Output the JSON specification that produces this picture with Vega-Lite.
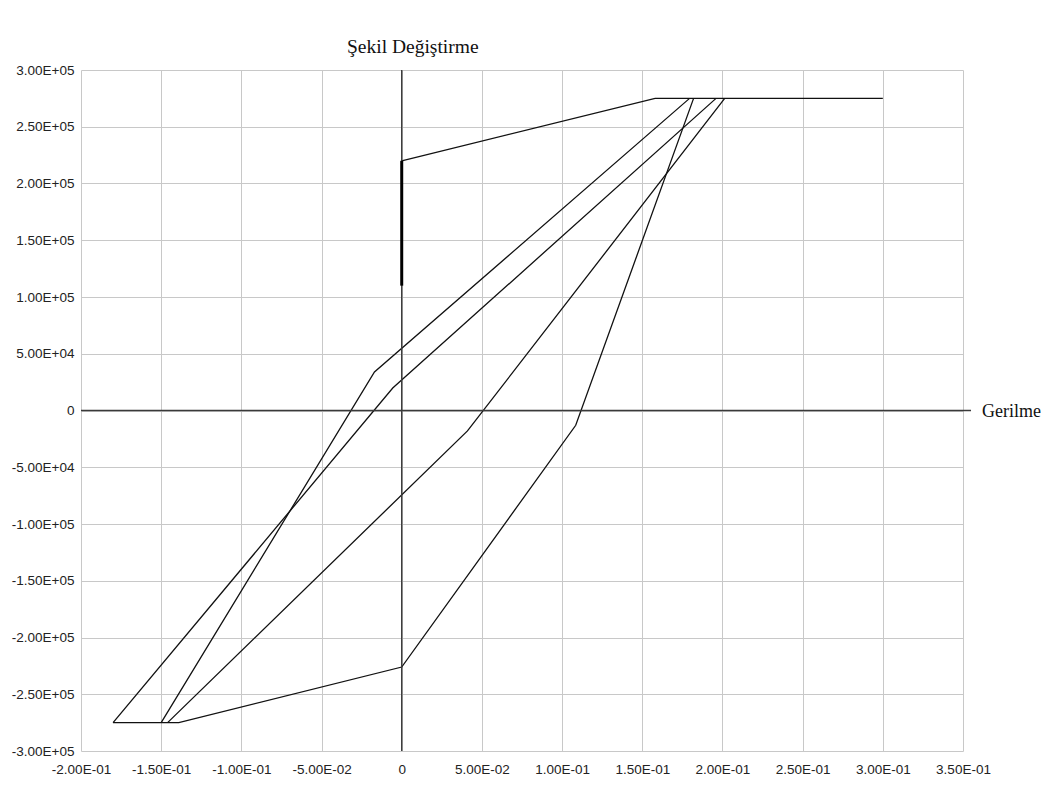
{
  "$schema": "https://vega.github.io/schema/vega-lite/v6.json",
  "width": 882,
  "height": 681,
  "autosize": "none",
  "padding": {"left": 81, "top": 70, "right": 94, "bottom": 34},
  "background": "white",
  "config": {
    "view": {"stroke": null},
    "axis": {
      "labelFont": "Liberation Sans",
      "labelFontSize": 13.5,
      "labelColor": "#222222",
      "labelOverlap": false,
      "labelBound": false,
      "labelFlush": false,
      "gridColor": "#c8c8c8",
      "gridWidth": 1,
      "domain": false,
      "ticks": false,
      "tickSize": 0,
      "title": null
    }
  },
  "datasets": {
    "loops": [
      {"s": "S1", "o": 1, "x": 0, "y": 220000},
      {"s": "S1", "o": 2, "x": 0.158, "y": 275000},
      {"s": "S1", "o": 3, "x": 0.3, "y": 275000},
      {"s": "A", "o": 1, "x": 0.1795, "y": 275000},
      {"s": "A", "o": 2, "x": -0.017, "y": 33900},
      {"s": "A", "o": 3, "x": -0.15, "y": -275000},
      {"s": "B", "o": 1, "x": 0.196, "y": 275000},
      {"s": "B", "o": 2, "x": -0.0056, "y": 19800},
      {"s": "B", "o": 3, "x": -0.18, "y": -275000},
      {"s": "C", "o": 1, "x": 0.2014, "y": 275000},
      {"s": "C", "o": 2, "x": 0.041, "y": -18000},
      {"s": "C", "o": 3, "x": -0.146, "y": -275000},
      {"s": "D", "o": 1, "x": -0.18, "y": -275000},
      {"s": "D", "o": 2, "x": -0.139, "y": -275000},
      {"s": "D", "o": 3, "x": 0, "y": -226000},
      {"s": "D", "o": 4, "x": 0.1085, "y": -13000},
      {"s": "D", "o": 5, "x": 0.182, "y": 275000}
    ],
    "thick": [
      {"s": "T", "o": 1, "x": 0, "y": 110000},
      {"s": "T", "o": 2, "x": 0, "y": 220000}
    ],
    "axes": [
      {"x": -0.2, "x2": 0.355, "y": 0}
    ],
    "labels": [
      {"t": "Şekil Değiştirme", "x": 0.0069, "y": 300000, "kind": "top"},
      {"t": "Gerilme", "x": 0.35, "y": 0, "kind": "right"}
    ]
  },
  "layer": [
    {
      "data": {"name": "loops"},
      "mark": {"type": "line", "color": "#111111", "strokeWidth": 1.3, "clip": false},
      "encoding": {
        "x": {
          "field": "x", "type": "quantitative",
          "scale": {"domain": [-0.2, 0.35], "nice": false, "zero": false},
          "axis": {
            "values": [-0.2, -0.15, -0.1, -0.05, 0, 0.05, 0.1, 0.15, 0.2, 0.25, 0.3, 0.35],
            "labelPadding": 11,
            "labelExpr": "abs(datum.value) < 1e-9 ? '0' : replace(replace(replace(upper(format(datum.value, '.2e')), '−', '-'), 'E+', 'E+0'), 'E-', 'E-0')"
          }
        },
        "y": {
          "field": "y", "type": "quantitative",
          "scale": {"domain": [-300000, 300000], "nice": false, "zero": false},
          "axis": {
            "values": [-300000, -250000, -200000, -150000, -100000, -50000, 0, 50000, 100000, 150000, 200000, 250000, 300000],
            "labelPadding": 7,
            "labelExpr": "abs(datum.value) < 1e-9 ? '0' : replace(replace(replace(upper(format(datum.value, '.2e')), '−', '-'), 'E+', 'E+0'), 'E-', 'E-0')"
          }
        },
        "detail": {"field": "s"},
        "order": {"field": "o", "type": "quantitative"}
      }
    },
    {
      "data": {"name": "axes"},
      "mark": {"type": "rule", "color": "#3a3a3a", "strokeWidth": 1.4},
      "encoding": {"x": {"datum": 0}}
    },
    {
      "data": {"name": "axes"},
      "mark": {"type": "rule", "color": "#3a3a3a", "strokeWidth": 1.4},
      "encoding": {"y": {"field": "y", "type": "quantitative"}, "x": {"field": "x", "type": "quantitative"}, "x2": {"field": "x2"}}
    },
    {
      "data": {"name": "thick"},
      "mark": {"type": "line", "color": "#000000", "strokeWidth": 3},
      "encoding": {
        "x": {"field": "x", "type": "quantitative"},
        "y": {"field": "y", "type": "quantitative"},
        "order": {"field": "o", "type": "quantitative"}
      }
    },
    {
      "data": {"name": "labels"},
      "transform": [{"filter": "datum.kind == 'top'"}],
      "mark": {"type": "text", "font": "Liberation Serif", "fontSize": 19.5, "color": "#111111", "align": "center", "baseline": "alphabetic", "dy": -17},
      "encoding": {
        "x": {"field": "x", "type": "quantitative"},
        "y": {"field": "y", "type": "quantitative"},
        "text": {"field": "t"}
      }
    },
    {
      "data": {"name": "labels"},
      "transform": [{"filter": "datum.kind == 'right'"}],
      "mark": {"type": "text", "font": "Liberation Serif", "fontSize": 18, "color": "#111111", "align": "left", "baseline": "middle", "dx": 19, "dy": 1},
      "encoding": {
        "x": {"field": "x", "type": "quantitative"},
        "y": {"field": "y", "type": "quantitative"},
        "text": {"field": "t"}
      }
    }
  ]
}
